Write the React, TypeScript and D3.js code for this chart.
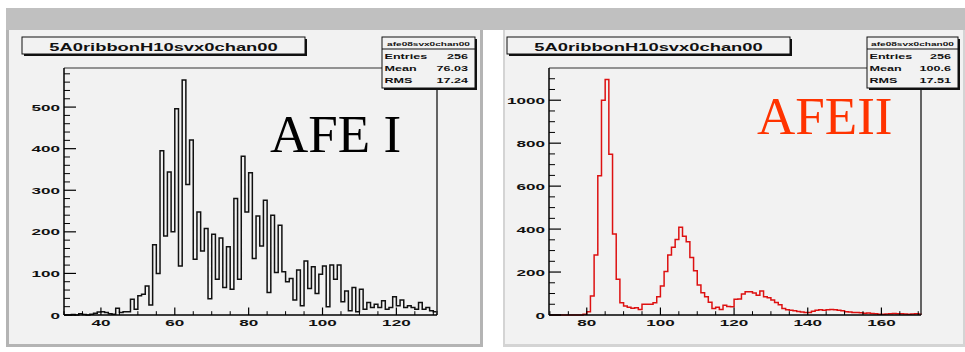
import React from 'react';
import * as d3 from 'd3';

// histogram titles and stats box content
const histTitle = '5A0ribbonH10svx0chan00';
const statTitle = 'afe08svx0chan00';
const statLabels = ['Entries', 'Mean', 'RMS'];
const afe1Stats = ['256', '76.03', '17.24'];
const afe2Stats = ['256', '100.6', '17.51'];

// AFE I : one bin per channel, first bin starts at 30
const afe1Start = 30;
const afe1Counts = [
  0, 0, 1, 0, 3, 1, 0, 2, 4, 7, 8, 6, 3, 2,
  16, 6, 8, 8, 38, 14, 46, 50, 70, 24, 169, 100,
  395, 190, 344, 200, 496, 118, 565, 314, 421, 134, 248, 154,
  208, 39, 194, 86, 185, 66, 164, 62, 280, 86, 382, 248,
  342, 136, 238, 166, 276, 54, 240, 102, 216, 104, 80, 88,
  36, 108, 22, 130, 64, 116, 52, 98, 118, 20, 120, 86,
  120, 32, 58, 10, 66, 8, 62, 14, 30, 18, 26, 18,
  34, 14, 18, 44, 22, 36, 18, 22, 18, 14, 30, 14,
  18, 10, 8,
];
const afe1XTicks = [40, 60, 80, 100, 120];
const afe1YTicks = [0, 100, 200, 300, 400, 500];

// AFE II : first bin starts at 70
const afe2Start = 70;
const afe2Counts = [
  0, 0, 0, 0, 0, 0, 0, 0, 0, 3,
  15, 88, 279, 648, 1000, 1096, 749, 377, 166, 57,
  42, 36, 31, 34, 26, 50, 50, 50, 57, 85,
  135, 202, 279, 315, 352, 408, 367, 341, 268, 206,
  140, 104, 85, 59, 30, 36, 26, 45, 40, 38,
  73, 75, 98, 108, 108, 102, 92, 112, 85, 80,
  70, 58, 48, 30, 24, 22, 20, 16, 14, 12,
  12, 18, 22, 24, 22, 24, 26, 24, 22, 20,
  15, 14, 12, 12, 10, 8, 9, 7, 6, 4,
  3, 5, 6, 7, 6, 6, 5, 4, 5, 6,
  5,
];
const afe2XTicks = [80, 100, 120, 140, 160];
const afe2YTicks = [0, 200, 400, 600, 800, 1000];

const W = 965;
const H = 352;
const SX = 1.8; // the slide text is stretched sideways
const sans = "'Liberation Sans', Arial, Helvetica, sans-serif";

function RootText({ x, y, size, anchor = 'start', children }: any) {
  return (
    <text
      transform={`translate(${x},${y}) scale(${SX},1)`}
      fontSize={size}
      fontWeight="bold"
      fontFamily={sans}
      textAnchor={anchor}
      fill="#111"
    >
      {children}
    </text>
  );
}

const pads = [
  {
    counts: afe1Counts, start: afe1Start, xDomain: [30, 131], yMax: 594,
    xTicks: afe1XTicks, yTicks: afe1YTicks, yMinor: 20, stats: afe1Stats,
    bg: [9, 480], frame: [64, 437], titleBox: [22, 305], statBox: [382, 475],
    line: '#111', label: 'AFE I', labelColor: '#000', labelX: 270, labelY: 152,
  },
  {
    counts: afe2Counts, start: afe2Start, xDomain: [69.75, 170.75], yMax: 1150,
    xTicks: afe2XTicks, yTicks: afe2YTicks, yMinor: 50, stats: afe2Stats,
    bg: [505, 963], frame: [549, 921], titleBox: [507, 790], statBox: [867, 958],
    line: '#dd1111', label: 'AFEII', labelColor: '#ff3300', labelX: 757, labelY: 134,
  },
];

const top = 68;
const bottom = 315;

function Pad({ p }: any) {
  const x = d3.scaleLinear().domain(p.xDomain).range(p.frame);
  const y = d3.scaleLinear().domain([0, p.yMax]).range([bottom, top]);
  const [d0, d1] = p.xDomain;
  const cx = (v: number) => x(Math.max(d0, Math.min(d1, v)));

  // step outline of the histogram
  const pts: [number, number][] = [[cx(p.start), y(0)]];
  p.counts.forEach((c: number, i: number) => {
    pts.push([cx(p.start + i), y(c)]);
    pts.push([cx(p.start + i + 1), y(c)]);
  });
  pts.push([cx(p.start + p.counts.length), y(0)]);
  const path = d3.line()(pts) || '';

  const yMinor = d3.range(0, p.yMax, p.yMinor).filter((v) => !p.yTicks.includes(v));
  const xMinor = d3.range(Math.ceil(d0 / 5) * 5, d1, 5).filter((v) => !p.xTicks.includes(v));

  const [tb0, tb1] = p.titleBox;
  const [sb0, sb1] = p.statBox;

  return (
    <g>
      <rect x={p.bg[0]} y={30} width={p.bg[1] - p.bg[0]} height={314} fill="#f2f2f2" />
      <path d={path} fill="none" stroke={p.line} strokeWidth={1.5} />

      {/* frame */}
      <line x1={p.frame[0]} x2={p.frame[1]} y1={top} y2={top} stroke="#333" strokeWidth={1.2} />
      <line x1={p.frame[1]} x2={p.frame[1]} y1={top} y2={bottom} stroke="#333" strokeWidth={1.5} />
      <line x1={p.frame[0]} x2={p.frame[0]} y1={top} y2={bottom} stroke="#000" strokeWidth={1.5} />
      <line x1={p.frame[0]} x2={p.frame[1]} y1={bottom} y2={bottom} stroke="#000" strokeWidth={1.5} />

      {/* y ticks */}
      {p.yTicks.map((v: number) => (
        <g key={'y' + v}>
          <line x1={p.frame[0]} x2={p.frame[0] + 12} y1={y(v)} y2={y(v)} stroke="#000" strokeWidth={1.2} />
          <RootText x={p.frame[0] - 4} y={y(v) + 3.5} size={9.5} anchor="end">{v}</RootText>
        </g>
      ))}
      {yMinor.map((v: number) => (
        <line key={'ym' + v} x1={p.frame[0]} x2={p.frame[0] + 6} y1={y(v)} y2={y(v)} stroke="#000" strokeWidth={1} />
      ))}

      {/* x ticks */}
      {p.xTicks.map((v: number) => (
        <g key={'x' + v}>
          <line x1={x(v)} x2={x(v)} y1={bottom} y2={bottom - 7.5} stroke="#000" strokeWidth={1.2} />
          <RootText x={x(v)} y={326} size={9.5} anchor="middle">{v}</RootText>
        </g>
      ))}
      {xMinor.map((v: number) => (
        <line key={'xm' + v} x1={x(v)} x2={x(v)} y1={bottom} y2={bottom - 3.8} stroke="#000" strokeWidth={1} />
      ))}

      <text x={p.labelX} y={p.labelY} fontSize={53} fontFamily="'Liberation Serif', 'Times New Roman', serif" fill={p.labelColor}>
        {p.label}
      </text>

      {/* title box */}
      <rect x={tb0 + 2} y={39} width={tb1 - tb0} height={17} fill="#111" />
      <rect x={tb0} y={37} width={tb1 - tb0} height={17} fill="#f2f2f2" stroke="#111" strokeWidth={1} />
      <RootText x={(tb0 + tb1) / 2} y={50.5} size={10.2} anchor="middle">{histTitle}</RootText>

      {/* stats box */}
      <rect x={sb0 + 2} y={39} width={sb1 - sb0} height={51} fill="#111" />
      <rect x={sb0} y={37} width={sb1 - sb0} height={51} fill="#f2f2f2" stroke="#111" strokeWidth={1} />
      <line x1={sb0} x2={sb1} y1={49} y2={49} stroke="#111" strokeWidth={1} />
      <RootText x={(sb0 + sb1) / 2} y={46} size={5.6} anchor="middle">{statTitle}</RootText>
      {statLabels.map((s, i) => (
        <g key={s}>
          <RootText x={sb0 + 2.5} y={58.5 + i * 12.3} size={7}>{s}</RootText>
          <RootText x={sb1 - 7} y={58.5 + i * 12.3} size={7} anchor="end">{p.stats[i]}</RootText>
        </g>
      ))}
    </g>
  );
}

export default function App() {
  return (
    <svg width={W} height={H} style={{ position: 'absolute', left: 0, top: 0 }}>
      <rect width={W} height={H} fill="#fff" />
      <rect x={6} y={8} width={W - 6} height={22} fill="#c0c0c0" />
      <rect x={6} y={30} width={477} height={317} fill="#b4b4b4" />
      <rect x={503} y={30} width={462} height={317} fill="#d4d4d4" />
      {pads.map((p, i) => (
        <Pad key={i} p={p} />
      ))}
    </svg>
  );
}
